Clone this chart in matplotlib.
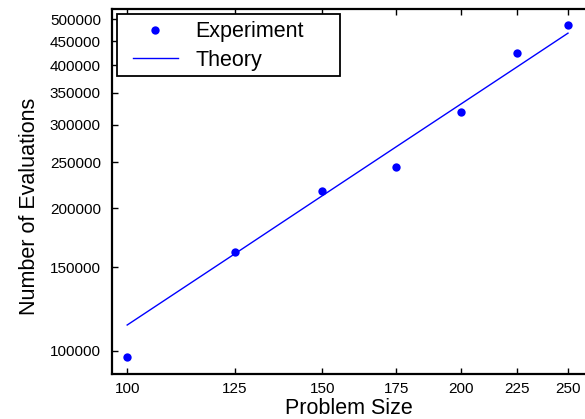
import matplotlib
matplotlib.use("Agg")
import matplotlib.pyplot as plt
from matplotlib.patches import Rectangle
from matplotlib.ticker import FixedLocator, NullLocator, FixedFormatter

plt.rcParams['font.family'] = ['Liberation Sans', 'DejaVu Sans']

# values
problem_size = [100, 125, 150, 175, 200, 225, 250]
experiment = [97100, 161600, 216900, 244000, 318600, 424000, 485600]
theory = [113400, 160100, 212400, 269600, 331300, 397400, 467800]

x_ticks = [100, 125, 150, 175, 200, 225, 250]
y_ticks = [100000, 150000, 200000, 250000, 300000, 350000, 400000, 450000, 500000]

fig = plt.figure(figsize=(5.85, 4.19), dpi=100)
ax = fig.add_axes([0.1915, 0.1074, 0.8085, 0.8711])

ax.plot(problem_size, experiment, 'o', color='#0000ff', markersize=6,
        markeredgewidth=0, label='Experiment')
ax.plot(problem_size, theory, '-', color='#0000ff', linewidth=1, label='Theory')

ax.set_xscale('log')
ax.set_yscale('log')
ax.set_xlim(96.9, 259)
ax.set_ylim(89400, 526000)

ax.xaxis.set_major_locator(FixedLocator(x_ticks))
ax.xaxis.set_major_formatter(FixedFormatter([str(v) for v in x_ticks]))
ax.xaxis.set_minor_locator(NullLocator())
ax.yaxis.set_major_locator(FixedLocator(y_ticks))
ax.yaxis.set_major_formatter(FixedFormatter([str(v) for v in y_ticks]))
ax.yaxis.set_minor_locator(NullLocator())

ax.tick_params(direction='in', length=4, width=1, labelsize=11,
               top=True, right=False)
ax.tick_params(axis='y', pad=8)
ax.tick_params(axis='x', pad=6)
for s in ax.spines.values():
    s.set_linewidth(1.6)
ax.spines['right'].set_visible(False)

ax.set_xlabel('Problem Size', fontsize=15.5, labelpad=1.5)
ax.set_ylabel('Number of Evaluations', fontsize=15.5)
ax.yaxis.set_label_coords(-0.152, 0.46)

# legend frame drawn separately (box is wider than its contents)
ax.add_patch(Rectangle((0.0106, 0.816), 0.4715, 0.170, transform=ax.transAxes,
                       facecolor='white', edgecolor='black', linewidth=1.3,
                       zorder=5))
leg = ax.legend(loc='upper left', bbox_to_anchor=(0.044, 0.967),
                borderaxespad=0, fontsize=15.5, frameon=False,
                handlelength=2.1, handletextpad=0.8, labelspacing=0.35,
                borderpad=0)
leg.set_zorder(6)

fig.savefig('out.png', dpi=100)
